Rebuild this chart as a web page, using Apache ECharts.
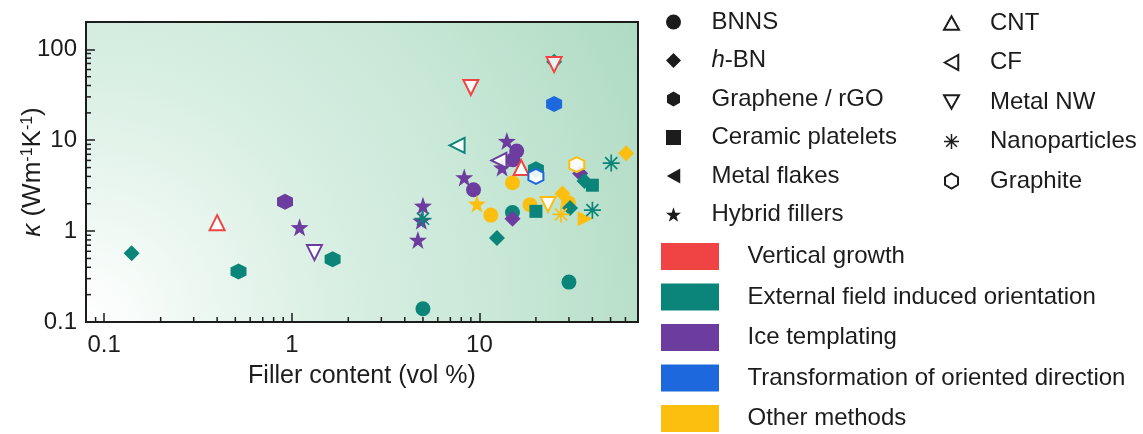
<!DOCTYPE html>
<html>
<head>
<meta charset="utf-8">
<script src="https://cdn.jsdelivr.net/npm/echarts@6/dist/echarts.min.js"></script>
<style>
  html, body { margin: 0; padding: 0; background: #fff; }
  #chart { width: 1143px; height: 434px; }
</style>
</head>
<body>
<div id="chart"></div>
<script>
// 颜色 = 取向方法
var methodColors = {
    vg: "#f04343",   // Vertical growth
    ef: "#0b8579",   // External field induced orientation
    ice: "#6c3d9e",  // Ice templating
    tr: "#1d68dd",   // Transformation of oriented direction
    oth: "#fcbf10"   // Other methods
};
var methodNames = ["Vertical growth", "External field induced orientation", "Ice templating",
    "Transformation of oriented direction", "Other methods"];
var methodKeys = ["vg", "ef", "ice", "tr", "oth"];

// 数据 [filler vol%, kappa, method]
var bnns = [[5, 0.14, "ef"], [9.3, 2.85, "ice"], [11.5, 1.5, "oth"], [15.8, 7.6, "ice"],
    [15.1, 6.1, "ice"], [15, 3.4, "oth"], [15, 1.6, "ef"], [18.6, 1.95, "oth"],
    [29.8, 2.05, "oth"], [30, 0.275, "ef"]];
var hbn = [[0.14, 0.57, "ef"], [12.4, 0.84, "ef"], [15, 1.37, "ice"], [25, 73, "ef"],
    [34.4, 4.3, "ice"], [36.3, 3.55, "ef"], [27.7, 2.6, "oth"], [30.4, 1.8, "ef"], [60.5, 7.2, "oth"]];
var graphene = [[0.52, 0.36, "ef"], [0.92, 2.1, "ice"], [1.65, 0.49, "ef"], [25, 25, "tr"], [20, 4.8, "ef"]];
var ceramic = [[20, 1.65, "ef"], [40, 3.2, "ef"]];
var metalFlakes = [[36.6, 1.37, "oth"]];
var hybrid = [[1.1, 1.1, "ice"], [4.7, 0.8, "ice"], [4.9, 1.3, "ice"], [5, 1.9, "ice"],
    [8.3, 3.9, "ice"], [9.7, 2.0, "oth"], [14, 9.8, "ice"], [13.2, 5.0, "ice"]];
var cnt = [[0.4, 1.24, "vg"], [16.7, 5.0, "vg"]];
var cf = [[7.6, 8.8, "ef"], [12.7, 6.0, "ice"]];
var metalNW = [[1.32, 0.58, "ice"], [9, 38, "vg"], [25, 68, "vg"], [23.2, 1.96, "oth"]];
var nano = [[5, 1.37, "ef"], [27.2, 1.53, "oth"], [40, 1.7, "ef"], [50.4, 5.6, "ef"]];
var graphite = [[20, 4.0, "tr"], [33, 5.4, "oth"]];

// 坐标轴范围与刻度
var xRange = [0.08, 70];
var yRange = [0.1, 200];
var xMinor = [0.09, 0.2, 0.3, 0.4, 0.5, 0.6, 0.7, 0.8, 0.9, 2, 3, 4, 5, 6, 7, 8, 9, 20, 30, 40, 50, 60, 70];
var yMinor = [0.2, 0.3, 0.4, 0.5, 0.6, 0.7, 0.8, 0.9, 2, 3, 4, 5, 6, 7, 8, 9, 20, 30, 40, 50, 60, 70, 80, 90];

var FONT = "'Liberation Sans', Arial, sans-serif";
var INK = "#1c1c1c";

// 符号路径
var hexPath = "path://M0,-1 L0.866,-0.5 L0.866,0.5 L0,1 L-0.866,0.5 L-0.866,-0.5 Z";
var starPath = "path://M0,-1 L0.235,-0.324 L0.951,-0.309 L0.380,0.124 L0.588,0.809 L0,0.4 L-0.588,0.809 L-0.380,0.124 L-0.951,-0.309 L-0.235,-0.324 Z";
var asterPath = "path://M9,0 L11,0 L11,20 L9,20 Z M0,9 L20,9 L20,11 L0,11 Z M2.2,3.6 L3.6,2.2 L17.8,16.4 L16.4,17.8 Z M16.4,2.2 L17.8,3.6 L3.6,17.8 L2.2,16.4 Z";
var upTri = "path://M0,-1 L1,0.8 L-1,0.8 Z";
var downTri = "path://M-1,-0.8 L1,-0.8 L0,1 Z";
var leftTri = "path://M-1,0 L0.8,-1 L0.8,1 Z";
var rightTri = "path://M1,0 L-0.8,1 L-0.8,-1 Z";

var myChart = echarts.init(document.getElementById("chart"));

// 实心/空心符号
function filled(name, arr, symbol, size) {
    return {
        name: name, type: "scatter", symbol: symbol, symbolSize: size,
        itemStyle: { color: INK, opacity: 1 },
        data: arr.map(function (d) {
            var item = { value: [d[0], d[1]], itemStyle: { color: methodColors[d[2]], opacity: 1 } };
            // 图中唯一一个朝右的三角
            if (name === "Metal flakes") item.symbol = rightTri;
            return item;
        })
    };
}
function hollow(name, arr, symbol, size) {
    return {
        name: name, type: "scatter", symbol: symbol, symbolSize: size,
        itemStyle: { color: "#fff", borderColor: INK, borderWidth: 2, opacity: 1 },
        data: arr.map(function (d) {
            return { value: [d[0], d[1]], itemStyle: { color: "rgba(255,255,255,0.9)", borderColor: methodColors[d[2]], borderWidth: 2, opacity: 1 } };
        })
    };
}

var series = [
    filled("BNNS", bnns, "circle", 15),
    filled("h-BN", hbn, "diamond", 16),
    filled("Graphene / rGO", graphene, hexPath, 16),
    filled("Ceramic platelets", ceramic, "rect", 13),
    filled("Metal flakes", metalFlakes, leftTri, 15),
    filled("Hybrid fillers", hybrid, starPath, 18),
    hollow("CNT", cnt, upTri, 15),
    hollow("CF", cf, leftTri, 15),
    hollow("Metal NW", metalNW, downTri, 15),
    filled("Nanoparticles", nano, asterPath, 17),
    hollow("Graphite", graphite, hexPath, 15)
];

// 方法颜色图例用的空系列
methodNames.forEach(function (n, i) {
    series.push({ name: n, type: "scatter", data: [], itemStyle: { color: methodColors[methodKeys[i]], opacity: 1 } });
});

// 对数小刻度
series.push({
    type: "custom", silent: true, z: 5,
    data: xMinor.map(function (v) { return [v, yRange[0]]; }),
    renderItem: function (params, api) {
        var p = api.coord([api.value(0), api.value(1)]);
        return { type: "line", shape: { x1: p[0], y1: p[1], x2: p[0], y2: p[1] - 5 }, style: { stroke: INK, lineWidth: 1.5 } };
    }
});
series.push({
    type: "custom", silent: true, z: 5,
    data: yMinor.map(function (v) { return [xRange[0], v]; }),
    renderItem: function (params, api) {
        var p = api.coord([api.value(0), api.value(1)]);
        return { type: "line", shape: { x1: p[0], y1: p[1], x2: p[0] + 5, y2: p[1] }, style: { stroke: INK, lineWidth: 1.5 } };
    }
});

function decadeLabel(v) {
    var l = Math.log10(v);
    if (Math.abs(l - Math.round(l)) > 1e-6) return "";
    return String(Math.pow(10, Math.round(l)));
}

var option = {
    animation: false,
    textStyle: { fontFamily: FONT },
    grid: {
        left: 86, right: 505, top: 22, bottom: 112,
        show: true, borderColor: INK, borderWidth: 2,
        backgroundColor: new echarts.graphic.RadialGradient(0, 1, 2.1, [
            { offset: 0, color: "#ffffff" },
            { offset: 0.08, color: "#f8fcfa" },
            { offset: 0.22, color: "#e9f6ef" },
            { offset: 0.42, color: "#d7eee2" },
            { offset: 0.65, color: "#c9e8d7" },
            { offset: 1, color: "#aedac3" }
        ])
    },
    legend: [
        {
            orient: "vertical", left: 666, top: 10, padding: 0, itemWidth: 15, itemHeight: 15, itemGap: 14.5,
            data: ["BNNS", "h-BN", "Graphene / rGO", "Ceramic platelets", "Metal flakes", "Hybrid fillers"],
            formatter: function (n) { return n === "h-BN" ? "{i|h}-BN" : n; },
            textStyle: { fontSize: 24, color: INK, lineHeight: 24, padding: [0, 0, 0, 25.5], fontFamily: FONT,
                rich: { i: { fontStyle: "italic", fontSize: 24, color: INK, fontFamily: FONT } } },
            selectedMode: false
        },
        {
            orient: "vertical", left: 943, top: 11, padding: 0, itemWidth: 15, itemHeight: 15, itemGap: 15.5,
            data: ["CNT", "CF", "Metal NW", "Nanoparticles", "Graphite"],
            textStyle: { fontSize: 24, color: INK, lineHeight: 24, padding: [0, 0, 0, 26], fontFamily: FONT },
            selectedMode: false
        },
        {
            orient: "vertical", left: 661, top: 243, padding: 0, itemWidth: 58, itemHeight: 27, itemGap: 13.5,
            icon: "rect",
            data: methodNames,
            textStyle: { fontSize: 24, color: INK, lineHeight: 26, padding: [0, 0, 0, 23.5], fontFamily: FONT },
            selectedMode: false
        }
    ],
    xAxis: {
        type: "log", logBase: 10, min: xRange[0], max: xRange[1],
        name: "Filler content (vol %)", nameLocation: "middle", nameGap: 42, nameMoveOverlap: false,
        nameTextStyle: { fontSize: 25, color: INK, fontFamily: FONT },
        axisLine: { lineStyle: { color: INK, width: 2 } },
        axisTick: { inside: true, length: 9, lineStyle: { color: INK, width: 1.5 } },
        axisLabel: { fontSize: 24, color: INK, margin: 11, formatter: decadeLabel, fontFamily: FONT },
        splitLine: { show: false }
    },
    yAxis: {
        type: "log", logBase: 10, min: yRange[0], max: yRange[1],
        name: "{k|κ} (Wm{s|-1}K{s|-1})", nameLocation: "middle", nameGap: 40, nameMoveOverlap: false,
        nameTextStyle: {
            fontSize: 26, color: INK, fontFamily: FONT,
            rich: {
                k: { fontSize: 26, fontStyle: "italic", color: INK, fontFamily: FONT },
                s: { fontSize: 16, verticalAlign: "top", color: INK, fontFamily: FONT, padding: [0, 0, 8, 0] }
            }
        },
        axisLine: { lineStyle: { color: INK, width: 2 } },
        axisTick: { inside: true, length: 9, lineStyle: { color: INK, width: 1.5 } },
        axisLabel: { fontSize: 24, color: INK, margin: 9, formatter: decadeLabel, fontFamily: FONT },
        splitLine: { show: false }
    },
    series: series
};

myChart.setOption(option);
window.addEventListener("resize", function () {
    myChart.resize();
});
</script>
</body>
</html>
